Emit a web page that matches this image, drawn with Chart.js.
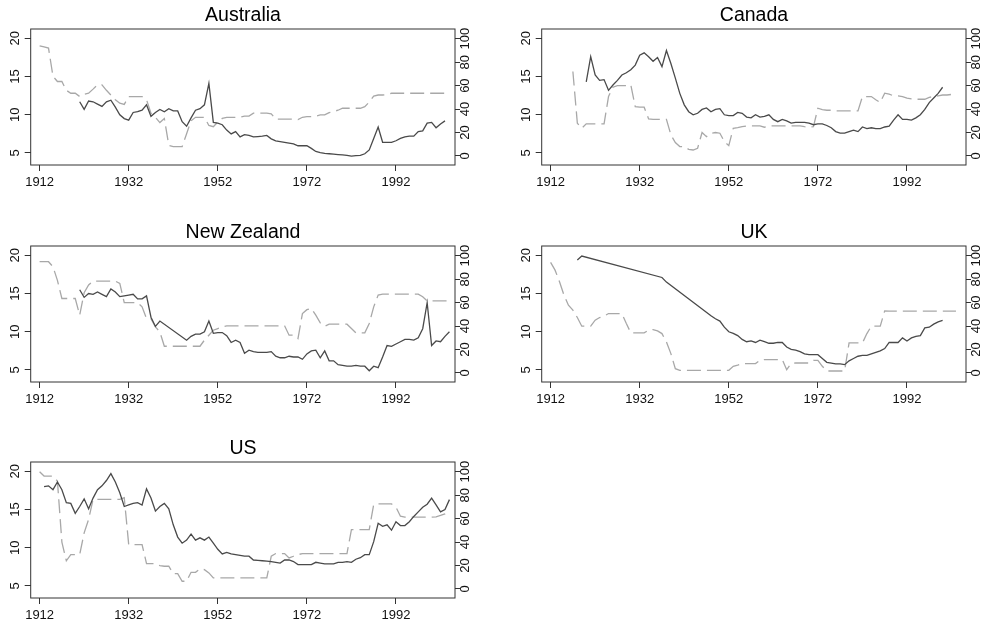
<!DOCTYPE html>
<html>
<head>
<meta charset="utf-8">
<script src="https://cdn.jsdelivr.net/npm/chart.js@4.4.0/dist/chart.umd.min.js"></script>
<style>
  html, body { margin: 0; padding: 0; background: #fff; overflow: hidden; }
  #wrap { position: relative; width: 996px; height: 624px; }
  canvas { position: absolute; }
</style>
</head>
<body>
<div id="wrap"></div>
<script>
// Axis ticks
const yearTicks = [1912, 1932, 1952, 1972, 1992];
const rateTicks = [5, 10, 15, 20];
const shareTicks = [0, 20, 40, 60, 80, 100];

// Panel titles
const countries = ['Australia', 'Canada', 'New Zealand', 'UK', 'US'];

// Solid line (left axis), one value per year from the start year
const ausRateStart = 1921;
const ausRate = [
  11.7, 10.7, 11.8, 11.7, 11.4, 11.1, 11.7, 11.9, 11.0,
  10.0, 9.5, 9.3, 10.3, 10.4, 10.6, 11.3, 9.8, 10.3, 10.7,
  10.4, 10.8, 10.5, 10.5, 9.1, 8.5, 9.6, 10.6, 10.8, 11.3,
  14.1, 9.0, 8.9, 8.7, 8.0, 7.5, 7.8, 7.1, 7.4, 7.3,
  7.1, 7.15, 7.2, 7.3, 6.85, 6.6, 6.5, 6.4, 6.3, 6.2,
  5.95, 5.95, 5.95, 5.6, 5.2, 5.05, 4.95, 4.9, 4.85, 4.8,
  4.75, 4.7, 4.6, 4.65, 4.7, 4.9, 5.4, 6.9, 8.4, 6.4,
  6.4, 6.4, 6.6, 6.9, 7.1, 7.2, 7.2, 7.8, 7.9, 8.9,
  9.0, 8.3, 8.8, 9.2
];
const canRateStart = 1920;
const canRate = [
  14.3, 17.6, 15.2, 14.5, 14.6, 13.2, 13.9, 14.5, 15.2, 15.5,
  15.9, 16.5, 17.8, 18.1, 17.6, 17.0, 17.5, 16.3, 18.4, 16.7,
  14.8, 12.8, 11.3, 10.4, 10.0, 10.2, 10.7, 10.9, 10.4, 10.7,
  10.8, 10.0, 9.9, 9.9, 10.3, 10.2, 9.7, 9.6, 10.0, 9.7,
  9.8, 10.0, 9.4, 9.1, 9.4, 9.2, 8.9, 9.0, 9.0, 9.0,
  8.9, 8.7, 8.8, 8.8, 8.6, 8.3, 7.8, 7.6, 7.6, 7.8,
  8.0, 7.8, 8.4, 8.2, 8.3, 8.2, 8.2, 8.4, 8.5, 9.3,
  10.0, 9.4, 9.4, 9.3, 9.6, 10.0, 10.7, 11.6, 12.2, 12.8,
  13.6
];
const nzRateStart = 1921;
const nzRate = [
  15.5, 14.5, 15.0, 14.9, 15.2, 14.9, 14.6, 15.6, 15.2,
  14.6, 14.7, 14.8, 14.9, 14.3, 14.3, 14.7, 11.9, 10.7, 11.4,
  null, null, null, null, null, 8.9, 9.4, 9.7, 9.7, 10.0,
  11.4, 9.8, 9.9, 9.9, 9.5, 8.6, 8.9, 8.6, 7.2, 7.6,
  7.4, 7.3, 7.3, 7.3, 7.4, 6.8, 6.6, 6.6, 6.8, 6.7,
  6.7, 6.4, 7.1, 7.5, 7.6, 6.6, 7.5, 6.2, 6.2, 5.7,
  5.6, 5.5, 5.5, 5.6, 5.5, 5.5, 4.9, 5.5, 5.3, 6.7,
  8.2, 8.1, 8.4, 8.7, 9.0, 9.0, 8.9, 9.2, 10.4, 13.8,
  8.2, 8.8, 8.7, 9.4, 10.0
];
const ukRateStart = 1918;
const ukRate = [
  19.4, 19.9,
  null, null, null, null, null, null, null, null, null, null,
  null, null, null, null, null, null, null, 17.1, 16.5, null,
  null, null, null, null, null, null, null, null, 12.1, 11.7,
  11.4, 10.6, 10.0, 9.8, 9.5, 9.0, 8.7, 8.8, 8.6, 8.9,
  8.7, 8.5, 8.5, 8.6, 8.6, 8.0, 7.7, 7.6, 7.4, 7.1,
  7.0, 7.0, 7.0, 6.5, 6.0, 5.9, 5.8, 5.8, 5.7, 6.2,
  6.5, 6.8, 6.9, 6.9, 7.1, 7.3, 7.5, 7.8, 8.6, 8.6,
  8.6, 9.2, 8.8, 9.2, 9.4, 9.5, 10.5, 10.6, 11.0, 11.3,
  11.5
];
const usRateStart = 1913;
const usRate = [
  18.0, 18.1, 17.6, 18.6, 17.6, 15.9, 15.8,
  14.5, 15.4, 16.4, 15.1, 16.5, 17.6, 18.1, 18.8, 19.7, 18.6,
  17.2, 15.4, 15.6, 15.8, 15.9, 15.6, 17.7, 16.5, 14.8, 15.4,
  15.8, 15.1, 13.0, 11.4, 10.6, 11.0, 11.8, 11.0, 11.3, 11.0,
  11.4, 10.6, 9.8, 9.2, 9.4, 9.2, 9.1, 9.0, 8.9, 8.9,
  8.4, 8.35, 8.3, 8.25, 8.2, 8.1, 8.0, 8.4, 8.4, 8.2,
  7.8, 7.8, 7.8, 7.8, 8.1, 8.0, 7.9, 7.9, 7.9, 8.1,
  8.1, 8.2, 8.1, 8.5, 8.7, 9.1, 9.1, 10.8, 13.2, 12.8,
  13.0, 12.3, 13.4, 12.9, 12.9, 13.4, 14.1, 14.7, 15.3, 15.7,
  16.5, 15.6, 14.7, 15.0, 16.3
];

// Dashed line (right axis), one value per year from the start year
const ausShareStart = 1912;
const ausShare = [
  94, 93, 92, 68, 63.5, 63.5, 56, 53.5,
  53.5, 50.7, 52.7, 53.5, 57, 60.7, 60.7, 56, 52, 48,
  45, 44, 50.7, 50.7, 50.7, 50.7, 48, 36.5, 33, 28.5,
  32, 9, 8, 8, 8, 19, 30, 33, 33, 33,
  26, 25, 29, 32, 33, 33, 33, 33, 34, 34,
  36.5, 36.5, 36.5, 36.5, 36, 31.5, 31.5, 31.5, 31.5, 31.5,
  31, 33, 33.5, 33.5, 34, 35, 35, 37, 38, 39,
  40.7, 40.7, 40.7, 40.7, 40.7, 42, 46, 51, 52, 52,
  52.5, 53.5, 53.5, 53.5, 53.5, 53.5, 53.5, 53.5, 53.5, 53.5,
  53.5, 53.5, 53.5, 53.5
];
const canShareStart = 1917;
const canShare = [
  72, 28, 23.6,
  27.4, 27.4, 27.4, 27.4, 27.4, 50.7, 58.7, 60, 60, 60,
  60.7, 42, 41.6, 41.6, 31.6, 31.3, 31.3, 31.3, 31.3, 18,
  11.4, 8, 8, 5.7, 5.1, 6.6, 20, 16.5, 19.4, 20,
  19.4, 12.3, 8.8, 23.6, 24.2, 25, 25.6, 25.6, 25.6, 25.6,
  24.5, 25.6, 25.6, 25.6, 25.6, 25.6, 25.6, 25.6, 25.6, 25,
  24.5, 25, 40.7, 39.5, 39, 39, 38.5, 38.5, 38.5, 38.5,
  38.5, 38.5, 50.7, 50.7, 50.7, 48, 45.6, 53.6, 52.7, 51.3,
  51.3, 50.7, 49.3, 48.7, 48.4, 48.4, 48.4, 50, 50.7, 51.3,
  52, 52, 52.5, 52.7
];
const nzShareStart = 1912;
const nzShare = [
  94.9, 94.9, 94.9, 90.6, 79, 63.5, 63.5, 63.5,
  63.5, 49.3, 68.4, 75, 78.3, 78.3, 78.3, 78.3, 78.3, 78.3,
  76.4, 60, 60, 60, 60, 56.4, 46.4, 46.4, 39.3, 35,
  22.8, 22.8, 22.8, 22.8, 22.8, 22.8, 22.8, 22.8, 22.8, 28,
  32.2, 36.5, 37.9, 39.3, 40.2, 40.2, 40.2, 40.2, 40.2, 40.2,
  40.2, 40.2, 40.2, 40.2, 40.2, 40.2, 40.2, 40.2, 32.2, 32.2,
  29.3, 50.7, 54, 55, 49.3, 42.7, 39.9, 41.6, 41.6, 41.6,
  41.6, 41.6, 37.9, 34.2, 34.2, 34.2, 42.2, 56.4, 66.4, 67.2,
  67.2, 67.2, 67.2, 67.2, 67.2, 67.2, 67.2, 67.2, 65, 61.5,
  61.5, 61.5, 61.5, 61.5, 61.5
];
const ukShareStart = 1912;
const ukShare = [
  94.3, 87.7, 77.8, 66.4, 57.8, 53.6, 47.3, 39.9,
  39.9, 39.9, 45, 47.3, 48.4, 50.7, 50.7, 50.7, 50.7, 42.2,
  34.2, 34.2, 34.2, 34.2, 36.5, 37, 35.9, 33.6, 26.5, 16.5,
  3.7, 2.3, 2.3, 2.3, 2.3, 2.3, 2.3, 2.3, 2.3, 2.3,
  2.3, 2.3, 2.3, 5.7, 6.6, 8, 8, 8, 8, 10.8,
  11.4, 11.4, 11.4, 11.4, 11.4, 2.8, 8, 8.5, 8.5, 8.5,
  8.5, 10.8, 10.8, 5.7, 1.7, 1.7, 1.7, 1.7, 1.7, 25.6,
  25.6, 25.6, 25.6, 33.6, 39.9, 39.9, 39.9, 53, 52.7, 52.7,
  52.7, 52.7, 52.7, 52.7, 52.7, 52.7, 52.7, 52.7, 52.7, 52.7,
  52.7, 52.7, 52.7, 52.7
];
const usShareStart = 1912;
const usShare = [
  100, 96.3, 96.3, 96.3, 92, 40, 24, 29.3,
  29.3, 29.3, 47.9, 59.3, 76.4, 76.4, 76.4, 76.4, 76.4, 76.4,
  76.4, 77.8, 37.9, 37.9, 37.9, 37.9, 21.7, 21.7, 21.7, 19.9,
  19.4, 19.4, 13.1, 13.1, 6.6, 6.6, 14.2, 14.2, 17.1, 16.5,
  13.7, 9.4, 9.4, 9.4, 9.4, 9.4, 9.4, 9.4, 9.4, 9.4,
  9.4, 9.4, 9.4, 9.4, 27.9, 30.2, 30.2, 30.2, 26.5, 27.9,
  29.3, 30.2, 30.2, 30.2, 30.2, 30.2, 30.2, 30.2, 30.2, 30.2,
  30.2, 30.2, 50.7, 50.7, 50.7, 50.7, 50.7, 72, 72.6, 72.6,
  72.6, 72.6, 69.8, 62.1, 61.3, 61.3, 61.3, 61.3, 61.3, 61.3,
  61.3, 61.5, 62.7, 64, 67
];

const panels = [
  { rateStart: ausRateStart, rate: ausRate, shareStart: ausShareStart, share: ausShare },
  { rateStart: canRateStart, rate: canRate, shareStart: canShareStart, share: canShare },
  { rateStart: nzRateStart, rate: nzRate, shareStart: nzShareStart, share: nzShare },
  { rateStart: ukRateStart, rate: ukRate, shareStart: ukShareStart, share: ukShare },
  { rateStart: usRateStart, rate: usRate, shareStart: usShareStart, share: usShare }
];

const FONT = 'Liberation Sans, Arial, Helvetica, sans-serif';
Chart.defaults.font.family = FONT;

// Plot frame round the chart area
const boxPlugin = {
  id: 'box',
  afterDraw(chart) {
    const a = chart.chartArea;
    const ctx = chart.ctx;
    ctx.save();
    ctx.strokeStyle = '#333';
    ctx.lineWidth = 1;
    ctx.strokeRect(a.left, a.top, a.right - a.left, a.bottom - a.top);
    ctx.restore();
  }
};

function toPoints(start, values) {
  return values.map((v, i) => ({ x: start + i, y: v }));
}

function setTicks(list) {
  return function(scale) {
    scale.ticks = list.map(v => ({ value: v }));
  };
}

const tickGrid = { drawOnChartArea: false, drawTicks: true, tickLength: 6, color: '#333', lineWidth: 1 };
const rightGrid = { drawOnChartArea: false, drawTicks: true, tickLength: 5, color: '#333', lineWidth: 1 };
const tickFont = { family: FONT, size: 13 };

const wrap = document.getElementById('wrap');

panels.forEach(function(p, idx) {
  const col = idx % 2;
  const row = Math.floor(idx / 2);
  const canvas = document.createElement('canvas');
  canvas.width = 486;
  canvas.height = 192;
  canvas.style.left = (col * 510.5) + 'px';
  canvas.style.top = (row * 216.6) + 'px';
  wrap.appendChild(canvas);

  new Chart(canvas, {
    type: 'line',
    data: {
      datasets: [
        {
          data: toPoints(p.rateStart, p.rate),
          yAxisID: 'y',
          borderColor: '#4a4a4a',
          borderWidth: 1.3,
          pointRadius: 0,
          tension: 0,
          spanGaps: true
        },
        {
          data: toPoints(p.shareStart, p.share),
          yAxisID: 'y1',
          borderColor: '#a8a8a8',
          borderWidth: 1.3,
          borderDash: [14, 6],
          pointRadius: 0,
          tension: 0
        }
      ]
    },
    options: {
      responsive: false,
      animation: false,
      devicePixelRatio: 1,
      layout: { padding: 0 },
      plugins: {
        legend: { display: false },
        tooltip: { enabled: false },
        title: {
          display: true,
          text: countries[idx],
          color: '#000',
          font: { family: FONT, size: 19.5, weight: 'normal' },
          padding: { top: 4.1, bottom: 1.5 }
        }
      },
      scales: {
        x: {
          type: 'linear',
          min: 1910,
          max: 2005.25,
          afterBuildTicks: setTicks(yearTicks),
          afterFit: function(s) { s.height = 27; },
          grid: tickGrid,
          border: { display: false },
          ticks: { color: '#111', font: tickFont, padding: 3.2, maxRotation: 0, autoSkip: false,
                   callback: v => String(v) }
        },
        y: {
          position: 'left',
          min: 3.43,
          max: 21.22,
          afterBuildTicks: setTicks(rateTicks),
          afterFit: function(s) { s.width = 30.7; },
          grid: tickGrid,
          border: { display: false },
          ticks: { color: '#111', font: tickFont, padding: 2.5, minRotation: 90, maxRotation: 90,
                   crossAlign: 'center', autoSkip: false, callback: v => String(v) }
        },
        y1: {
          position: 'right',
          min: -7.7,
          max: 108.3,
          afterBuildTicks: setTicks(shareTicks),
          afterFit: function(s) { s.width = 31; },
          grid: rightGrid,
          border: { display: false },
          ticks: { color: '#111', font: tickFont, padding: -5.8, minRotation: 90, maxRotation: 90,
                   crossAlign: 'center', autoSkip: false, callback: v => String(v) }
        }
      }
    },
    plugins: [boxPlugin]
  });
});
</script>
</body>
</html>
